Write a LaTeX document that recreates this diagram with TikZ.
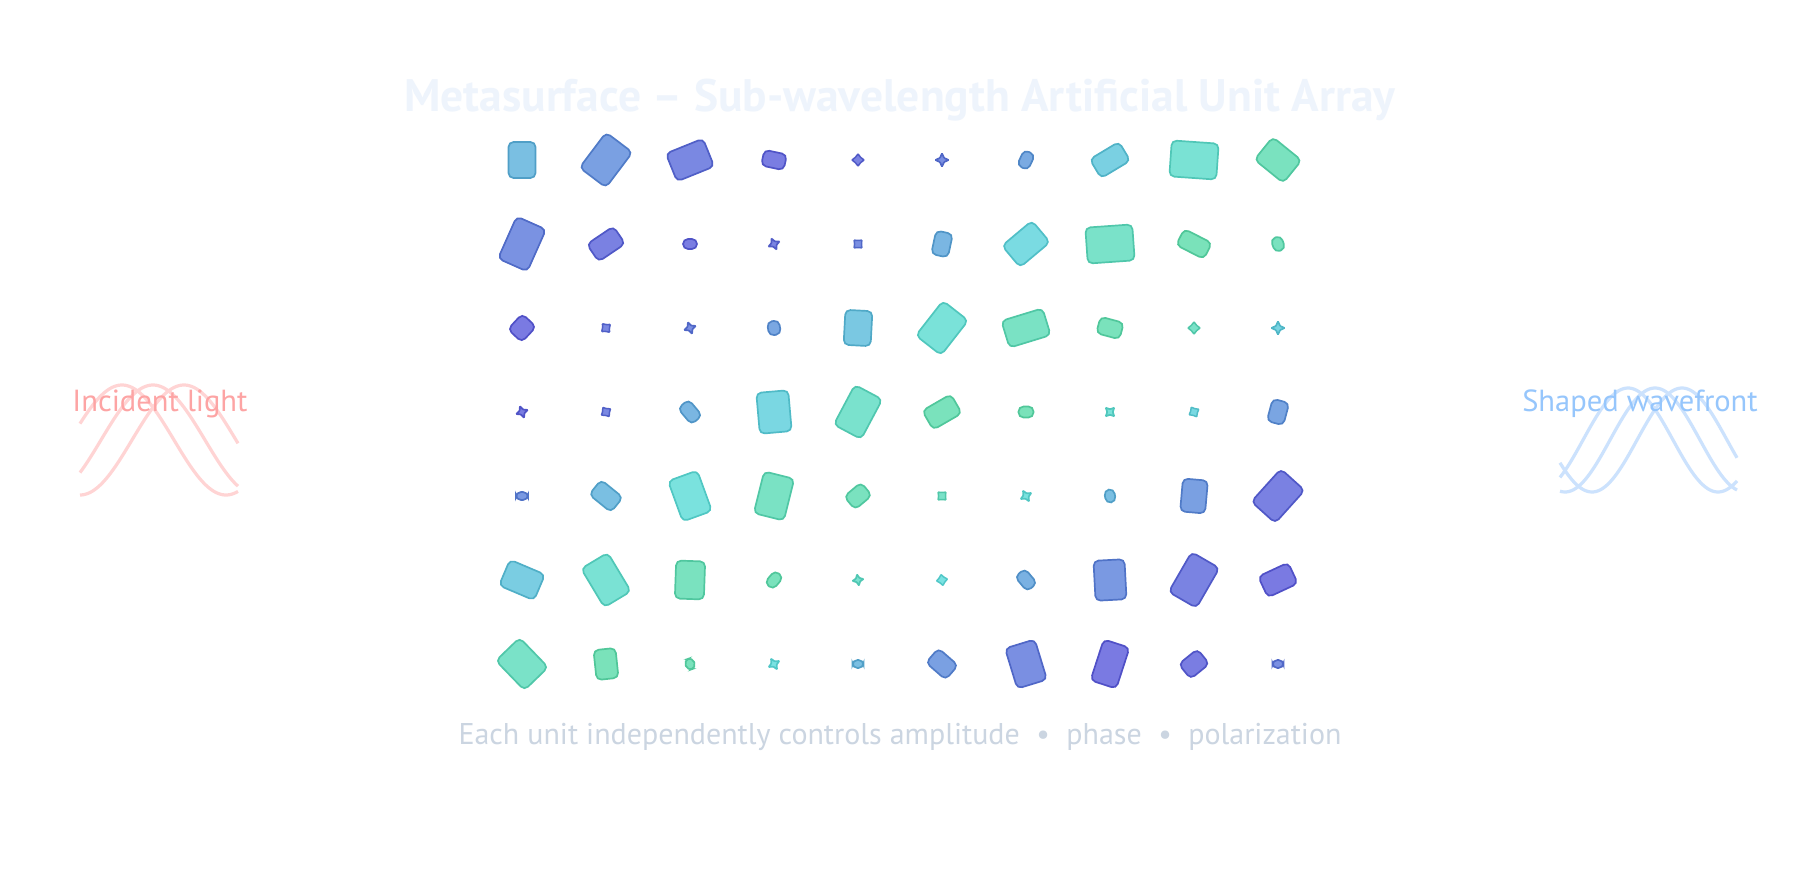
\documentclass[tikz,border=0pt]{standalone}
\usepackage{fontspec}
\setmainfont{PT Sans}
\usepackage{tikz}
\usetikzlibrary{shapes.geometric}

\definecolor{titlec}{RGB}{238,244,252}
\definecolor{capc}{RGB}{203,213,225}
\definecolor{inc}{RGB}{253,164,164}
\definecolor{incw}{RGB}{255,212,212}
\definecolor{outc}{RGB}{150,198,252}
\definecolor{outw}{RGB}{204,226,253}
\newcommand{\hue}[1]{\definecolor{tmpf}{Hsb}{#1,0.46,0.885}\colorlet{f#1}[rgb]{tmpf}%
  \definecolor{tmpd}{Hsb}{#1,0.6,0.78}\colorlet{d#1}[rgb]{tmpd}}
\hue{157}\hue{158}\hue{160}\hue{163}\hue{165}\hue{166}\hue{168}\hue{170}\hue{172}\hue{175}
\hue{178}\hue{180}\hue{184}\hue{185}\hue{186}\hue{188}\hue{190}\hue{192}\hue{195}\hue{200}
\hue{205}\hue{208}\hue{212}\hue{214}\hue{215}\hue{218}\hue{222}\hue{226}\hue{228}\hue{232}
\hue{234}\hue{235}\hue{236}\hue{238}\hue{240}

\begin{document}
\begin{tikzpicture}
          [x=1pt,y=-1pt,
           cell/.style={draw=d#1,fill=f#1,shape=rectangle,rounded corners=5pt,inner sep=0,line width=1.7pt},
           spark/.style={cell=#1,shape=star,star points=4,star point ratio=2.2,rounded corners=0.6pt,line width=1.7pt},
           nub/.style={cell=#1,shape=star,star points=4,star point ratio=1.6,rounded corners=0.6pt,line width=1.5pt},
           sz/.style 2 args={minimum width=#1pt,minimum height=#2pt},
           wavein/.style={incw,line width=3.2pt},
           waveout/.style={outw,line width=3.2pt}]

          \useasboundingbox (0,0) rectangle (1800,880);
          \fill[white] (0,0) rectangle (1800,880);

          \node[anchor=base,titlec,font=\fontsize{45.5}{52}\selectfont\bfseries] (title) at (900,112) {Metasurface -- Sub-wavelength Artificial Unit Array};

          \draw[wavein] plot[domain=80:238,samples=80] (\x,{440-55*cos((\x-122)/208*360)});
          \draw[wavein] plot[domain=80:238,samples=80] (\x,{440-55*cos((\x-153)/208*360)});
          \draw[wavein] plot[domain=80:238,samples=80] (\x,{440-55*cos((\x-184)/208*360)});
          \node[anchor=base,inc,font=\fontsize{30.5}{36}\selectfont] (incident) at (160,411) {Incident light};

          \draw[waveout] plot[domain=1560:1737,samples=80] (\x,{440-52*cos((\x-1628)/180*360)});
          \draw[waveout] plot[domain=1560:1737,samples=80] (\x,{440-52*cos((\x-1655)/180*360)});
          \draw[waveout] plot[domain=1560:1737,samples=80] (\x,{440-52*cos((\x-1682)/180*360)});
          \node[anchor=base,outc,font=\fontsize{30.5}{36}\selectfont] (shaped) at (1640,411) {Shaped wavefront};

          \node[cell=200,sz={27}{36},rotate=0] (u11) at (522,160) {};
          \node[cell=218,sz={33}{44},rotate=-37] (u12) at (606,160) {};
          \node[cell=232,sz={40}{30},rotate=22] (u13) at (690,160) {};
          \node[cell=238,sz={23}{16},rotate=-12] (u14) at (774,160) {};
          \node[nub=235,sz={12}{12},rotate=0] (u15) at (858,160) {};
          \node[spark=228,sz={13}{13},rotate=0] (u16) at (942,160) {};
          \node[cell=212,sz={12}{17},rotate=-25] (u17) at (1026,160) {};
          \node[cell=190,sz={34}{22},rotate=31] (u18) at (1110,160) {};
          \node[cell=172,sz={47}{36},rotate=-4] (u19) at (1194,160) {};
          \node[cell=160,sz={37}{29},rotate=-39] (u110) at (1278,160) {};

          \node[cell=226,sz={32}{46},rotate=-24] (u21) at (522,244) {};
          \node[cell=236,sz={32}{21},rotate=34] (u22) at (606,244) {};
          \node[cell=238,sz={14}{10},rotate=0] (u23) at (690,244) {};
          \node[spark=234,sz={12}{12},rotate=25] (u24) at (774,244) {};
          \node[nub=228,sz={11}{11},rotate=45] (u25) at (858,244) {};
          \node[cell=205,sz={17}{24},rotate=-12] (u26) at (942,244) {};
          \node[cell=184,sz={39}{28},rotate=40] (u27) at (1026,244) {};
          \node[cell=166,sz={47}{36},rotate=4] (u28) at (1110,244) {};
          \node[cell=157,sz={31}{18},rotate=-27] (u29) at (1194,244) {};
          \node[cell=160,sz={11}{14},rotate=20] (u210) at (1278,244) {};

          \node[cell=240,sz={19}{21},rotate=-43] (u31) at (522,328) {};
          \node[nub=232,sz={11}{11},rotate=40] (u32) at (606,328) {};
          \node[spark=228,sz={12}{12},rotate=20] (u33) at (690,328) {};
          \node[cell=214,sz={12}{14},rotate=10] (u34) at (774,328) {};
          \node[cell=195,sz={27}{35},rotate=-3] (u35) at (858,328) {};
          \node[cell=175,sz={32}{44},rotate=-38] (u36) at (942,328) {};
          \node[cell=163,sz={43}{28},rotate=17] (u37) at (1026,328) {};
          \node[cell=158,sz={24}{17},rotate=-15] (u38) at (1110,328) {};
          \node[nub=165,sz={12}{12},rotate=0] (u39) at (1194,328) {};
          \node[spark=188,sz={13}{13},rotate=0] (u310) at (1278,328) {};

          \node[spark=238,sz={12}{12},rotate=20] (u41) at (522,412) {};
          \node[nub=232,sz={11}{11},rotate=35] (u42) at (606,412) {};
          \node[cell=205,sz={21}{14},rotate=-50] (u43) at (690,412) {};
          \node[cell=186,sz={32}{41},rotate=5] (u44) at (774,412) {};
          \node[cell=168,sz={31}{45},rotate=-28] (u45) at (858,412) {};
          \node[cell=158,sz={33}{22},rotate=30] (u46) at (942,412) {};
          \node[cell=157,sz={15}{11},rotate=0] (u47) at (1026,412) {};
          \node[spark=175,sz={12}{12},rotate=45] (u48) at (1110,412) {};
          \node[nub=185,sz={11}{11},rotate=30] (u49) at (1194,412) {};
          \node[cell=215,sz={17}{23},rotate=-15] (u410) at (1278,412) {};

          \node[cell=222,sz={12}{8},rotate=0] (u51) at (522,496) {};
          \node[cell=200,sz={28}{19},rotate=-39] (u52) at (606,496) {};
          \node[cell=178,sz={31}{43},rotate=20] (u53) at (690,496) {};
          \node[cell=163,sz={31}{43},rotate=-14] (u54) at (774,496) {};
          \node[cell=160,sz={22}{17},rotate=40] (u55) at (858,496) {};
          \node[nub=165,sz={11}{11},rotate=45] (u56) at (942,496) {};
          \node[spark=178,sz={12}{12},rotate=30] (u57) at (1026,496) {};
          \node[cell=200,sz={10}{13},rotate=10] (u58) at (1110,496) {};
          \node[cell=218,sz={25}{33},rotate=-5] (u59) at (1194,496) {};
          \node[cell=236,sz={32}{44},rotate=-42] (u510) at (1278,496) {};

          \node[cell=192,sz={38}{28},rotate=-23] (u61) at (522,580) {};
          \node[cell=172,sz={31}{45},rotate=31] (u62) at (606,580) {};
          \node[cell=160,sz={29}{38},rotate=-2] (u63) at (690,580) {};
          \node[cell=158,sz={16}{11},rotate=50] (u64) at (774,580) {};
          \node[spark=170,sz={11}{11},rotate=10] (u65) at (858,580) {};
          \node[nub=180,sz={11}{11},rotate=10] (u66) at (942,580) {};
          \node[cell=208,sz={19}{13},rotate=-50] (u67) at (1026,580) {};
          \node[cell=222,sz={31}{40},rotate=3] (u68) at (1110,580) {};
          \node[cell=235,sz={32}{46},rotate=-30] (u69) at (1194,580) {};
          \node[cell=240,sz={33}{23},rotate=25] (u610) at (1278,580) {};

          \node[cell=165,sz={41}{33},rotate=-46] (u71) at (522,664) {};
          \node[cell=157,sz={22}{30},rotate=6] (u72) at (606,664) {};
          \node[cell=158,sz={9}{11},rotate=20] (u73) at (690,664) {};
          \node[spark=180,sz={12}{12},rotate=30] (u74) at (774,664) {};
          \node[cell=200,sz={11}{8},rotate=0] (u75) at (858,664) {};
          \node[cell=218,sz={26}{19},rotate=-41] (u76) at (942,664) {};
          \node[cell=228,sz={31}{42},rotate=17] (u77) at (1026,664) {};
          \node[cell=240,sz={27}{43},rotate=-18] (u78) at (1110,664) {};
          \node[cell=238,sz={24}{19},rotate=39] (u79) at (1194,664) {};
          \node[cell=228,sz={11}{8},rotate=0] (u710) at (1278,664) {};

          \node[anchor=base,capc,font=\fontsize{30}{36}\selectfont] (caption) at (900,744) {Each unit independently controls amplitude\hspace{0.55em}•\hspace{0.55em}phase\hspace{0.55em}•\hspace{0.55em}polarization};

        \end{tikzpicture}
\end{document}
